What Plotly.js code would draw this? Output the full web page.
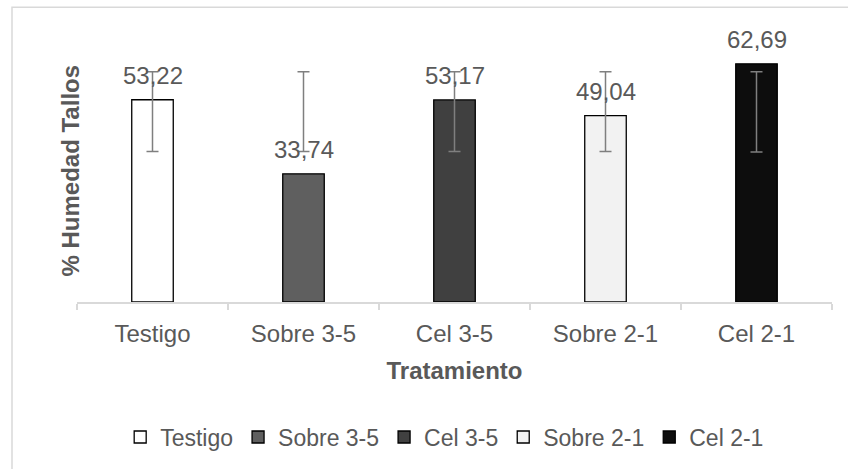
<!DOCTYPE html>
<html>
<head>
<meta charset="utf-8">
<script src="https://cdn.plot.ly/plotly-3.0.1.min.js"></script>
<style>
  html, body { margin: 0; padding: 0; background: #ffffff; }
  #chart { width: 848px; height: 469px; }
</style>
</head>
<body>
<div id="chart"></div>
<script>
// ---- data ----
const categories = ["Testigo", "Sobre 3-5", "Cel 3-5", "Sobre 2-1", "Cel 2-1"];
const values = [53.22, 33.74, 53.17, 49.04, 62.69];
const errLow = [39.6, 39.6, 39.6, 39.6, 39.5];
const errHigh = [60.6, 60.6, 60.6, 60.6, 60.6];
const barColors = ["#ffffff", "#5f5f5f", "#404040", "#f2f2f2", "#0d0d0d"];
const xTitle = "Tratamiento";
const yTitle = "% Humedad Tallos";

const FONT = "Liberation Sans, Arial, sans-serif";
const TXT = "#595959";
const FS = 24;

const traces = categories.map((c, i) => ({
  type: "bar",
  name: c,
  x: [c],
  y: [values[i]],
  marker: { color: barColors[i], line: { color: "#000000", width: 1.3 } },
  hoverinfo: "x+y"
}));

// error bars (center +/- half range)
traces.push({
  type: "scatter",
  mode: "markers",
  x: categories,
  y: errLow.map((lo, i) => (lo + errHigh[i]) / 2),
  marker: { opacity: 0, size: 1 },
  error_y: {
    type: "data",
    array: errLow.map((lo, i) => (errHigh[i] - lo) / 2),
    symmetric: true,
    color: "#7f7f7f",
    thickness: 1.5,
    width: 6
  },
  showlegend: false,
  hoverinfo: "skip"
});

const annotations = categories.map((c, i) => ({
  x: c,
  y: values[i],
  xref: "x",
  yref: "y",
  text: values[i].toFixed(2).replace(".", ","),
  showarrow: false,
  yanchor: "bottom",
  yshift: 9,
  font: { family: FONT, size: FS, color: TXT }
}));

// y axis title
annotations.push({
  xref: "paper", yref: "paper",
  x: -0.009, y: 0.495,
  xanchor: "center", yanchor: "middle",
  textangle: -90,
  showarrow: false,
  text: "<b>" + yTitle + "</b>",
  font: { family: FONT, size: FS, color: TXT }
});

const layout = {
  width: 848,
  height: 469,
  margin: { l: 77, r: 16, t: 36, b: 166 },
  paper_bgcolor: "#ffffff",
  plot_bgcolor: "#ffffff",
  font: { family: FONT, size: FS, color: TXT },
  barmode: "overlay",
  bargap: 0.725,
  showlegend: true,
  legend: {
    orientation: "h",
    x: 0.487,
    xanchor: "center",
    y: -0.502,
    yanchor: "middle",
    font: { family: FONT, size: 23, color: TXT },
    itemwidth: 30,
    itemclick: false,
    itemdoubleclick: false
  },
  xaxis: {
    type: "category",
    showline: true,
    linecolor: "#d9d9d9",
    linewidth: 1.5,
    ticks: "outside",
    tickson: "boundaries",
    ticklen: 6,
    tickcolor: "#d9d9d9",
    tickwidth: 1.5,
    ticklabelstandoff: 9,
    showgrid: false,
    zeroline: false,
    tickfont: { family: FONT, size: FS, color: TXT },
    title: { text: xTitle, font: { family: FONT, size: FS, color: TXT, weight: "bold" }, standoff: 17 }
  },
  yaxis: {
    range: [0, 70],
    showline: false,
    showgrid: false,
    zeroline: false,
    showticklabels: false,
    ticks: ""
  },
  annotations: annotations,
  shapes: [{
    type: "rect",
    xref: "paper", yref: "paper",
    x0: -0.0861, x1: 1.08,
    y0: -0.68, y1: 1.108,
    line: { color: "#d9d9d9", width: 1.5 },
    fillcolor: "rgba(0,0,0,0)",
    layer: "below"
  }]
};

Plotly.newPlot("chart", traces, layout, { displayModeBar: false });
</script>
</body>
</html>
